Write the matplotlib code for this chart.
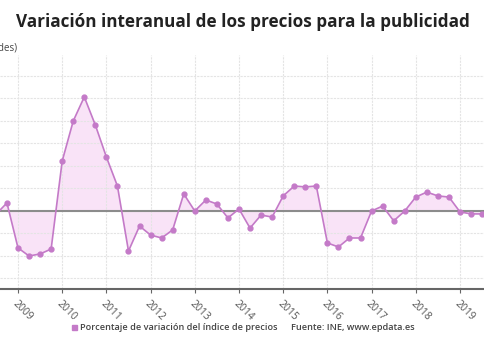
import matplotlib

matplotlib.use("Agg")
import matplotlib.pyplot as plt
from matplotlib.patches import Rectangle

plt.rcParams["font.family"] = ["Open Sans", "DejaVu Sans"]

# Trimestres desde 2008 T3 hasta 2019 T3
ANIO_INICIO = 2008.5
variacion = [
    -0.15, 0.36,
    -1.64, -2.0, -1.91, -1.69,
    2.22, 4.0, 5.07, 3.82,
    2.4, 1.11, -1.78, -0.67,
    -1.07, -1.2, -0.84, 0.76,
    0.0, 0.49, 0.31, -0.31,
    0.09, -0.76, -0.18, -0.27,
    0.67, 1.11, 1.07, 1.11,
    -1.42, -1.6, -1.2, -1.2,
    0.0, 0.22, -0.44, 0.0,
    0.62, 0.84, 0.67, 0.62,
    -0.04, -0.13, -0.13,
]
fechas = [ANIO_INICIO + i / 4 for i in range(len(variacion))]
anios = list(range(2009, 2020))

TITULO = "Variación interanual de los precios para la publicidad"
SUBTITULO = "(Unidades)"
SERIE = "Porcentaje de variación del índice de precios"
FUENTE = "Fuente: INE, www.epdata.es"

COLOR_LINEA = "#c47ac8"
COLOR_RELLENO = "#f9e3f7"

fig = plt.figure(figsize=(4.85, 3.6), dpi=100)
ax = fig.add_axes([0.0, 1 - 289 / 360, 1.0, (289 - 55) / 360])

ax.fill_between(fechas, variacion, 0, color=COLOR_RELLENO, lw=0, zorder=1)
ax.plot(fechas, variacion, color=COLOR_LINEA, lw=1.2, marker="o", ms=3.5, zorder=3)
ax.axhline(0, color="#8c8c8c", lw=1.5, zorder=2)

ax.set_xlim(2008.593, 2019.566)
ax.set_ylim(-3.467, 6.933)
ax.set_yticks(range(-3, 7))
ax.set_xticks(anios)
ax.set_xticklabels([str(a) for a in anios], rotation=-45, ha="left", va="top",
                   rotation_mode="anchor", fontsize=7.5, color="#555555")
ax.tick_params(axis="y", length=0, labelleft=False)
ax.tick_params(axis="x", length=3, color="#666666", pad=4)
ax.grid(True, color="#e4e4e4", lw=0.8, ls=(0, (2, 1)), zorder=0)
for lado in ["top", "left", "right"]:
    ax.spines[lado].set_visible(False)
ax.spines["bottom"].set_color("#666666")
ax.spines["bottom"].set_linewidth(1.5)

fig.text(0.5, 1 - 22 / 360, TITULO, ha="center", va="center", fontsize=12.3,
         fontweight="bold", color="#222222")
fig.text(17.5 / 485, 1 - 48 / 360, SUBTITULO, ha="right", va="center", fontsize=7,
         color="#444444")

# Leyenda y fuente
fig.patches.append(Rectangle((72 / 485, 1 - 330 / 360), 5 / 485, 5 / 360,
                             transform=fig.transFigure, color=COLOR_LINEA))
fig.text(80 / 485, 1 - 327 / 360, SERIE, ha="left", va="center", fontsize=6.6,
         fontweight="semibold", color="#444444")
fig.text(291 / 485, 1 - 327 / 360, FUENTE, ha="left", va="center", fontsize=6.6,
         fontweight="semibold", color="#444444")

fig.savefig("out.png", dpi=100)
